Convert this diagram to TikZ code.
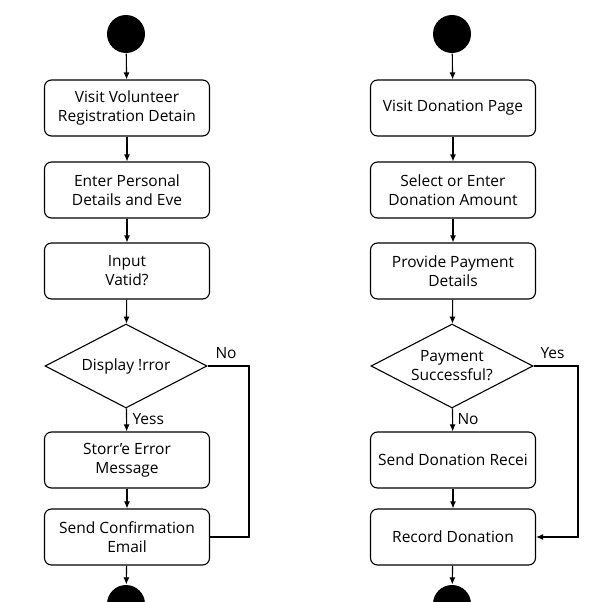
\documentclass[tikz,border=0pt]{standalone}
\usepackage{fontspec}
\setmainfont{Open Sans}
\usetikzlibrary{arrows.meta,shapes.geometric}

\begin{document}
\begin{tikzpicture}[x=1pt, y=-1pt,
    line width=1.1pt,
    >={Latex[length=7pt,width=6pt]},
    act/.style={
        draw,
        rounded corners=7pt,
        minimum width=165pt,
        minimum height=56pt,
        align=center,
        font=\fontsize{15.5}{19}\selectfont
    },
    dec/.style={
        draw,
        diamond,
        aspect=1.93,
        inner sep=0pt,
        minimum width=162pt,
        minimum height=84pt,
        align=center,
        font=\fontsize{15.5}{19}\selectfont
    },
    dot/.style={
        circle,
        fill=black,
        inner sep=0pt,
        minimum size=38pt
    },
    lbl/.style={
        font=\fontsize{15.5}{18}\selectfont,
        inner sep=1pt
    }
]

\clip (0,0) rectangle (602,602);
\fill[white] (0,0) rectangle (602,602);

% --- Volunteer flow ---
\node[dot] (s1) at (126,34) {};
\node[act] (a1) at (127,108) {Visit Volunteer\\Registration Detain};
\node[act] (a2) at (127,190) {Enter Personal\\Details and Eve};
\node[act] (a3) at (127,271) {Input\\Vatid?};
\node[dec] (d1) at (126,366) {Display !rror};
\node[act] (a4) at (127,460) {Storr'e Error\\Message};
\node[act] (a5) at (127,537) {Send Confirmation\\Email};
\node[dot] (e1) at (126,604) {};
\coordinate (n1) at (249,366);

\draw[->] (s1) -- (a1);
\draw[->] (a1) -- (a2);
\draw[->] (a2) -- (a3);
\draw[->] (a3) -- (d1);
\draw[->] (d1) -- (a4);
\draw[->] (a4) -- (a5);
\draw[->] (a5) -- (e1);
\draw (d1.east) -- (n1) |- (a5.east);

\node[lbl, anchor=west] (no1) at (214,353) {No};
\node[lbl, anchor=west] (yes1) at (131,419) {Yess};

% --- Donation flow ---
\node[dot] (s2) at (452,34) {};
\node[act] (b1) at (453,108) {Visit Donation Page};
\node[act] (b2) at (453,190) {Select or Enter\\Donation Amount};
\node[act] (b3) at (453,271) {Provide Payment\\Details};
\node[dec] (d2) at (452,366) {Payment\\Successful?};
\node[act] (b4) at (453,460) {Send Donation Recei};
\node[act] (b5) at (453,537) {Record Donation};
\node[dot] (e2) at (452,604) {};
\coordinate (y2) at (578,366);

\draw[->] (s2) -- (b1);
\draw[->] (b1) -- (b2);
\draw[->] (b2) -- (b3);
\draw[->] (b3) -- (d2);
\draw[->] (d2) -- (b4);
\draw[->] (b4) -- (b5);
\draw[->] (b5) -- (e2);
\draw[->] (d2.east) -- (y2) |- (b5.east);

\node[lbl, anchor=west] (yes2) at (539,353) {Yes};
\node[lbl, anchor=west] (no2) at (456,419) {No};

\end{tikzpicture}
\end{document}
